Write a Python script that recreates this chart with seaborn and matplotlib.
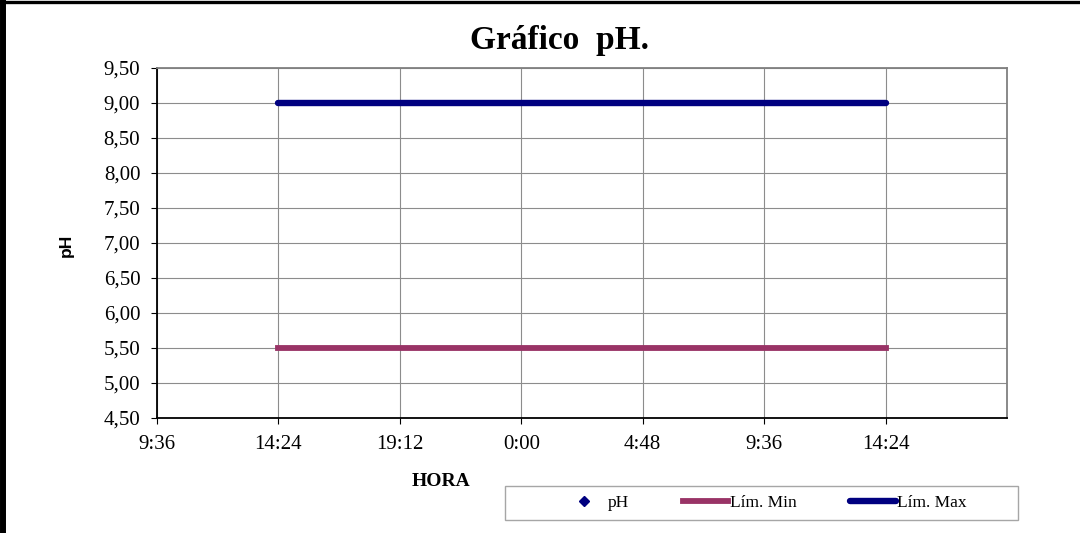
import matplotlib
matplotlib.use("Agg")
import matplotlib.pyplot as plt
import seaborn as sns
from matplotlib.lines import Line2D
from matplotlib.patches import Rectangle
from matplotlib.ticker import FuncFormatter, MultipleLocator

# DATA (hours counted from 0:00 of the first day)
hora_ph = []
valores_ph = []
hora_lim = [14.4, 38.4]
lim_min = [5.5, 5.5]
lim_max = [9.0, 9.0]
x_ticks = [9.6, 14.4, 19.2, 24.0, 28.8, 33.6, 38.4]

sns.set_style("white")
plt.rcParams["font.family"] = ["Liberation Serif", "DejaVu Serif"]
plt.rcParams["text.color"] = "black"

fig = plt.figure(figsize=(10.8, 5.33), dpi=100)
ax = fig.add_axes([157 / 1080, 1 - 418 / 533, 850 / 1080, 350 / 533])

# pH series (no readings)
ax.plot(hora_ph, valores_ph, linestyle="none", marker="D", markersize=5,
        color="#000080", label="pH")

sns.lineplot(x=hora_lim, y=lim_min, ax=ax, color="#993366", linewidth=4.2,
             solid_capstyle="projecting", label="Lím. Min")
sns.lineplot(x=hora_lim, y=lim_max, ax=ax, color="#000080", linewidth=4.6,
             solid_capstyle="round", label="Lím. Max")
ax.get_legend().remove()

ax.set_xlim(9.6, 43.2)
ax.set_ylim(4.5, 9.5)
ax.set_xticks(x_ticks)
ax.yaxis.set_major_locator(MultipleLocator(0.5))


def fmt_hora(x, pos):
    m = int(round(x * 60)) % 1440
    return f"{m // 60}:{m % 60:02d}"


ax.xaxis.set_major_formatter(FuncFormatter(fmt_hora))
ax.yaxis.set_major_formatter(FuncFormatter(lambda v, p: f"{v:.2f}".replace(".", ",")))

# gridlines, including the unlabeled one at the right edge
ax.grid(True, color="#8c8c8c", linewidth=0.8)
ax.set_axisbelow(True)

ax.tick_params(axis="both", which="major", direction="out", length=4, width=0.8,
               color="black", labelsize=15, labelcolor="black")
ax.tick_params(axis="y", pad=8)
ax.tick_params(axis="x", pad=8)
ax.xaxis.set_ticks_position("bottom")
ax.yaxis.set_ticks_position("left")

for side in ["left", "bottom"]:
    ax.spines[side].set_color("black")
    ax.spines[side].set_linewidth(1.3)
for side in ["top", "right"]:
    ax.spines[side].set_color("#808080")
    ax.spines[side].set_linewidth(1.3)

# titles
fig.text(560 / 1080, 1 - 40 / 533, "Gráfico  pH.", ha="center", va="center",
         fontsize=24, fontweight="bold", color="black")
fig.text(441 / 1080, 1 - 482 / 533, "HORA", ha="center", va="center",
         fontsize=14, fontweight="bold", color="black")
fig.text(66 / 1080, 1 - 245 / 533, "pH", ha="center", va="center", rotation=90,
         fontsize=12.5, fontweight="bold", color="black",
         family=["Liberation Sans", "DejaVu Sans"])

# legend
handles, labels = ax.get_legend_handles_labels()
fig.legend(handles, labels, loc="center", bbox_to_anchor=(764 / 1080, 1 - 503 / 533),
           ncol=3, frameon=False, fontsize=12.5, handlelength=2.6,
           handletextpad=0.1, columnspacing=3.1, borderpad=0, labelcolor="black")
fig.add_artist(Rectangle((505 / 1080, 1 - 520 / 533), 513 / 1080, 34 / 533,
                         transform=fig.transFigure, fill=False,
                         edgecolor="#a6a6a6", linewidth=1.0))

# outer border (left and top visible)
fig.add_artist(Line2D([3 / 1080, 3 / 1080], [0, 1], transform=fig.transFigure,
                      color="black", linewidth=4.3))
fig.add_artist(Line2D([0, 1], [1 - 1.6 / 533, 1 - 1.6 / 533], transform=fig.transFigure,
                      color="black", linewidth=2.4))

fig.savefig("out.png", dpi=100)
